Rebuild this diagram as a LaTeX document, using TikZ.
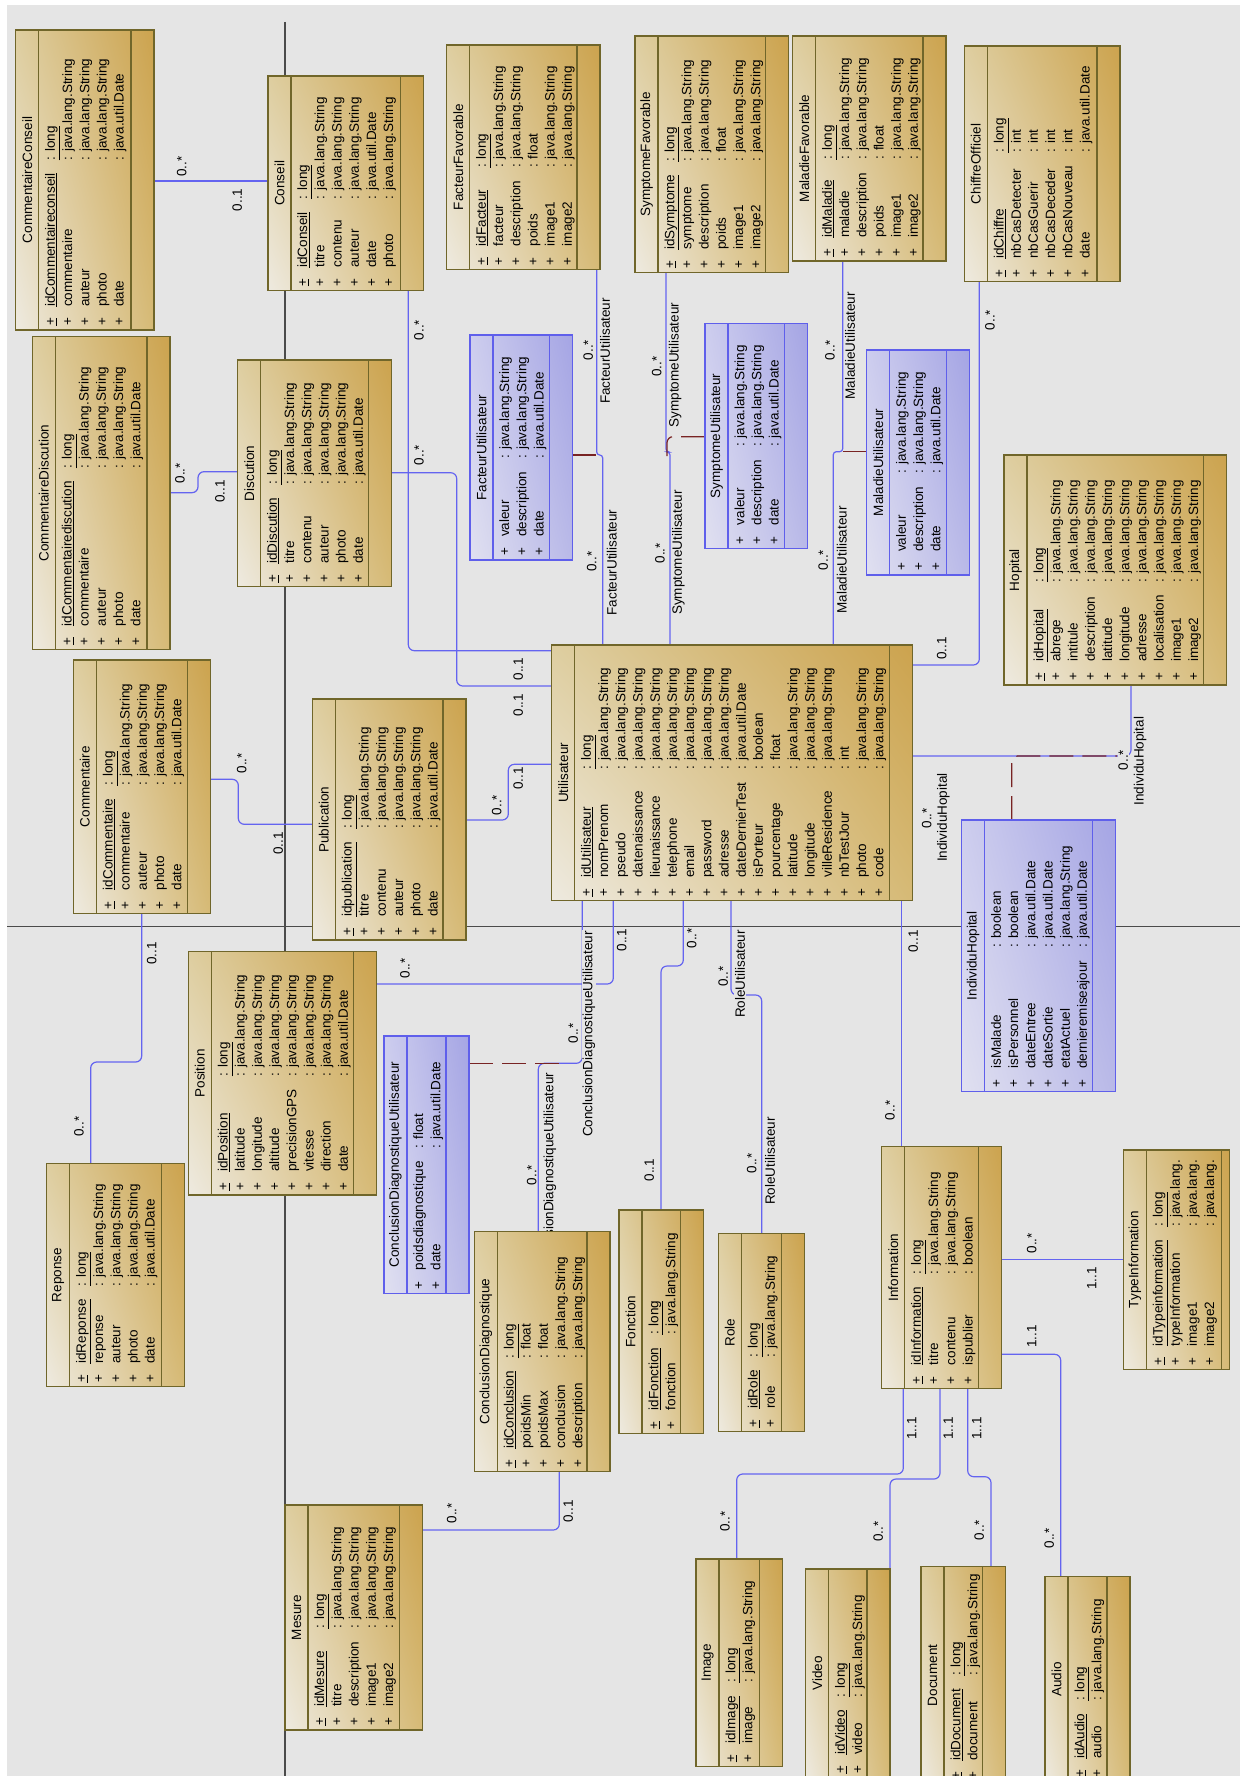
\documentclass[tikz,border=0pt]{standalone}
\usepackage{fontspec}
\setmainfont{Liberation Sans}
\usetikzlibrary{shadings,backgrounds}

\definecolor{bgray}{RGB}{229,229,229}
\definecolor{pagegray}{RGB}{75,75,75}
\definecolor{tanborder}{RGB}{112,102,42}
\definecolor{tanA}{RGB}{238,234,224}
\definecolor{tanB}{RGB}{222,206,160}
\definecolor{tanC}{RGB}{214,186,118}
\definecolor{tanD}{RGB}{204,163,78}
\definecolor{blueborder}{RGB}{95,95,235}
\definecolor{blueA}{RGB}{224,224,240}
\definecolor{blueB}{RGB}{205,205,238}
\definecolor{blueC}{RGB}{185,185,232}
\definecolor{blueD}{RGB}{165,165,228}
\definecolor{assocblue}{RGB}{100,100,240}
\definecolor{linkred}{RGB}{120,35,35}

\newcommand\clfont{\fontsize{13.5pt}{17.2pt}\selectfont}
\newcommand\jstr{java.lang.String}
\newcommand\jdate{java.util.Date}
\newcommand\clkey[1]{\underline{+} & \underline{#1} & \underline{: long}\\}
\newcommand\clattr[2]{+ & #1 & : #2\\}

\newcommand\classbox[9][23]{%
  \node[#2, minimum width={#6-#4}, minimum height={#7-#5}] (#3) at ({(#4+#6)/2},{(#5+#7)/2}) {};
  \draw[#2 div] ([xshift=23pt]#3.north west) -- ([xshift=23pt]#3.south west)
    ([xshift=-#1pt]#3.north east) -- ([xshift=-#1pt]#3.south east);
  \node[cltitle] (#3-t) at ([xshift=11.5pt]#3.west) {#8};
  \node[clattrs] (#3-a) at ([xshift=27pt,yshift=4pt]#3.south west)
    {\begin{tabular}{@{}l@{\hspace{11pt}}l@{\hspace{13pt}}l@{}}#9\end{tabular}};
}

\begin{document}
\begin{tikzpicture}[x=1pt,y=-1pt,
  tanclass/.style={draw=tanborder, line width=1.3pt, lower left=tanA, upper left=tanB, lower right=tanC, upper right=tanD, inner sep=0pt, outer sep=0pt},
  tanclass div/.style={draw=tanborder, line width=1.3pt},
  blueclass/.style={draw=blueborder, line width=1.3pt, lower left=blueA, upper left=blueB, lower right=blueC, upper right=blueD, inner sep=0pt, outer sep=0pt},
  blueclass div/.style={draw=blueborder, line width=1.3pt},
  cltitle/.style={rotate=90, font=\clfont, inner sep=0pt},
  clattrs/.style={rotate=90, anchor=north west, inner sep=0pt, font=\clfont},
  assoc/.style={draw=assocblue, line width=1.2pt, rounded corners=6pt},
  assoclink/.style={draw=linkred, line width=1.2pt, dash pattern=on 24pt off 9pt, rounded corners=6pt},
  mult/.style={rotate=90, font=\clfont, fill=bgray, inner sep=1pt},
  pageline/.style={draw=pagegray, line width=1.3pt}]

\useasboundingbox (0,0) rectangle (1240,1776);

\classbox{tanclass}{commconseil}{15.7}{30}{154}{330}{CommentaireConseil}{%
  \clkey{idCommentaireconseil}\clattr{commentaire}{\jstr}\clattr{auteur}{\jstr}\clattr{photo}{\jstr}\clattr{date}{\jdate}}
\classbox{tanclass}{conseil}{268}{76}{423.3}{290.7}{Conseil}{%
  \clkey{idConseil}\clattr{titre}{\jstr}\clattr{contenu}{\jstr}\clattr{auteur}{\jstr}\clattr{date}{\jdate}\clattr{photo}{\jstr}}
\classbox{tanclass}{commdisc}{32.3}{336.7}{170}{649.3}{CommentaireDiscution}{%
  \clkey{idCommentairediscution}\clattr{commentaire}{\jstr}\clattr{auteur}{\jstr}\clattr{photo}{\jstr}\clattr{date}{\jdate}}
\classbox{tanclass}{discution}{237.7}{360}{391.7}{586.7}{Discution}{%
  \clkey{idDiscution}\clattr{titre}{\jstr}\clattr{contenu}{\jstr}\clattr{auteur}{\jstr}\clattr{photo}{\jstr}\clattr{date}{\jdate}}
\classbox{tanclass}{commentaire}{73.3}{660}{210.7}{913.3}{Commentaire}{%
  \clkey{idCommentaire}\clattr{commentaire}{\jstr}\clattr{auteur}{\jstr}\clattr{photo}{\jstr}\clattr{date}{\jdate}}
\classbox{tanclass}{publication}{312.3}{699}{466}{940}{Publication}{%
  \clkey{idpublication}\clattr{titre}{\jstr}\clattr{contenu}{\jstr}\clattr{auteur}{\jstr}\clattr{photo}{\jstr}\clattr{date}{\jdate}}
\classbox{tanclass}{reponse}{46.7}{1163.3}{184.3}{1386.7}{Reponse}{%
  \clkey{idReponse}\clattr{reponse}{\jstr}\clattr{auteur}{\jstr}\clattr{photo}{\jstr}\clattr{date}{\jdate}}
\classbox{tanclass}{position}{188.3}{951.7}{376.7}{1195}{Position}{%
  \clkey{idPosition}\clattr{latitude}{\jstr}\clattr{longitude}{\jstr}\clattr{altitude}{\jstr}\clattr{precisionGPS}{\jstr}\clattr{vitesse}{\jstr}\clattr{direction}{\jstr}\clattr{date}{\jdate}}
\classbox{blueclass}{cdu}{384}{1036}{469}{1293.3}{ConclusionDiagnostiqueUtilisateur}{%
  \clattr{poidsdiagnostique}{float}\clattr{date}{\jdate}}
\classbox{tanclass}{conclusion}{474.3}{1231.7}{610}{1471.7}{ConclusionDiagnostique}{%
  \clkey{idConclusion}\clattr{poidsMin}{float}\clattr{poidsMax}{float}\clattr{conclusion}{\jstr}\clattr{description}{\jstr}}
\classbox{tanclass}{fonction}{619}{1210}{703.3}{1433.3}{Fonction}{%
  \clkey{idFonction}\clattr{fonction}{\jstr}}
\classbox{tanclass}{role}{718.3}{1233.3}{804.3}{1431.7}{Role}{%
  \clkey{idRole}\clattr{role}{\jstr}}
\classbox{tanclass}{mesure}{285}{1505}{422.3}{1730}{Mesure}{%
  \clkey{idMesure}\clattr{titre}{\jstr}\clattr{description}{\jstr}\clattr{image1}{\jstr}\clattr{image2}{\jstr}}
\classbox{tanclass}{image}{696}{1559}{782.7}{1766.6}{Image}{%
  \clkey{idImage}\clattr{image}{\jstr}}
\classbox{tanclass}{video}{805.7}{1569}{890}{1778}{Video}{%
  \clkey{idVideo}\clattr{video}{\jstr}}
\classbox{tanclass}{document}{921}{1566.7}{1005.7}{1784}{Document}{%
  \clkey{idDocument}\clattr{document}{\jstr}}
\classbox{tanclass}{audio}{1045}{1576.7}{1130}{1782}{Audio}{%
  \clkey{idAudio}\clattr{audio}{\jstr}}
\classbox{tanclass}{information}{881.7}{1146.7}{1001.7}{1388.3}{Information}{%
  \clkey{idInformation}\clattr{titre}{\jstr}\clattr{contenu}{\jstr}\clattr{ispublier}{boolean}}
\classbox[7.6]{tanclass}{typeinfo}{1123.3}{1150}{1229.3}{1369.3}{TypeInformation}{%
  \clkey{idTypeinformation}\clattr{typeInformation}{java.lang.}\clattr{image1}{java.lang.}\clattr{image2}{java.lang.}}
\classbox{blueclass}{individu}{961.7}{820}{1115.7}{1091.7}{IndividuHopital}{%
  \clattr{isMalade}{boolean}\clattr{isPersonnel}{boolean}\clattr{dateEntree}{\jdate}\clattr{dateSortie}{\jdate}\clattr{etatActuel}{\jstr}\clattr{dernieremiseajour}{\jdate}}
\classbox{tanclass}{hopital}{1004}{455}{1226.7}{685}{Hopital}{%
  \clkey{idHopital}\clattr{abrege}{\jstr}\clattr{intitule}{\jstr}\clattr{description}{\jstr}\clattr{latitude}{\jstr}\clattr{longitude}{\jstr}\clattr{adresse}{\jstr}\clattr{localisation}{\jstr}\clattr{image1}{\jstr}\clattr{image2}{\jstr}}
\classbox{tanclass}{utilisateur}{551.7}{645}{912.7}{900.7}{Utilisateur}{%
  \clkey{idUtilisateur}\clattr{nomPrenom}{\jstr}\clattr{pseudo}{\jstr}\clattr{datenaissance}{\jstr}\clattr{lieunaissance}{\jstr}\clattr{telephone}{\jstr}\clattr{email}{\jstr}\clattr{password}{\jstr}\clattr{adresse}{\jstr}\clattr{dateDernierTest}{\jdate}\clattr{isPorteur}{boolean}\clattr{pourcentage}{float}\clattr{latitude}{\jstr}\clattr{longitude}{\jstr}\clattr{villeResidence}{\jstr}\clattr{nbTestJour}{int}\clattr{photo}{\jstr}\clattr{code}{\jstr}}
\classbox{tanclass}{facteurfav}{446.7}{45}{600}{269.3}{FacteurFavorable}{%
  \clkey{idFacteur}\clattr{facteur}{\jstr}\clattr{description}{\jstr}\clattr{poids}{float}\clattr{image1}{\jstr}\clattr{image2}{\jstr}}
\classbox{tanclass}{symptomefav}{635}{36}{788.3}{272.7}{SymptomeFavorable}{%
  \clkey{idSymptome}\clattr{symptome}{\jstr}\clattr{description}{\jstr}\clattr{poids}{float}\clattr{image1}{\jstr}\clattr{image2}{\jstr}}
\classbox{tanclass}{maladiefav}{792.7}{36}{946}{261}{MaladieFavorable}{%
  \clkey{idMaladie}\clattr{maladie}{\jstr}\clattr{description}{\jstr}\clattr{poids}{float}\clattr{image1}{\jstr}\clattr{image2}{\jstr}}
\classbox{tanclass}{chiffre}{964.3}{46}{1120}{281.7}{ChiffreOfficiel}{%
  \clkey{idChiffre}\clattr{nbCasDetecter}{int}\clattr{nbCasGuerir}{int}\clattr{nbCasDeceder}{int}\clattr{nbCasNouveau}{int}\clattr{date}{\jdate}}
\classbox{blueclass}{facteurutil}{470}{335}{572.3}{560}{FacteurUtilisateur}{%
  \clattr{valeur}{\jstr}\clattr{description}{\jstr}\clattr{date}{\jdate}}
\classbox{blueclass}{symptomeutil}{705}{323.3}{807.3}{548.3}{SymptomeUtilisateur}{%
  \clattr{valeur}{\jstr}\clattr{description}{\jstr}\clattr{date}{\jdate}}
\classbox{blueclass}{maladieutil}{866.7}{350}{969.3}{575}{MaladieUtilisateur}{%
  \clattr{valeur}{\jstr}\clattr{description}{\jstr}\clattr{date}{\jdate}}

\begin{scope}[on background layer]
\fill[white] (0,0) rectangle (1240,1776);
\fill[bgray] (7,5) rectangle (1240,1776);
\draw[pageline] (285,22) -- (285,1776) (7,926.7) -- (1240,926.7);

\draw[assoc] (commconseil.east |- 0,181) -- (conseil.west |- 0,181);
\draw[assoc] (408.3,0 |- conseil.south) -- (408.3,650.7) -- (utilisateur.west |- 0,650.7);
\draw[assoc] (discution.east |- 0,472.7) -- (456.7,472.7) -- (456.7,686) -- (utilisateur.west |- 0,686);
\draw[assoc] (commdisc.east |- 0,492.7) -- (198,492.7) -- (198,471.7) -- (discution.west |- 0,471.7);
\draw[assoc] (commentaire.east |- 0,779.3) -- (238.3,779.3) -- (238.3,824.3) -- (publication.west |- 0,824.3);
\draw[assoc] (publication.east |- 0,820) -- (508.3,820) -- (508.3,764.3) -- (utilisateur.west |- 0,764.3);
\draw[assoc] (141.7,0 |- commentaire.south) -- (141.7,1062) -- (90.7,1062) -- (90.7,0 |- reponse.north);
\draw[assoc] (position.east |- 0,984) -- (613.3,984) -- (613.3,0 |- utilisateur.south);
\draw[assoc] (582.3,0 |- utilisateur.south) -- (582.3,1063.3) -- (538.3,1063.3) -- (538.3,0 |- conclusion.north);
\draw[assoc] (683.3,0 |- utilisateur.south) -- (683.3,966) -- (661,966) -- (661,0 |- fonction.north);
\draw[assoc] (731,0 |- utilisateur.south) -- (731,995) -- (761.7,995) -- (761.7,0 |- role.north);
\draw[assoc] (901.7,0 |- utilisateur.south) -- (901.7,0 |- information.north);
\draw[assoc] (information.east |- 0,1259.3) -- (typeinfo.west |- 0,1259.3);
\draw[assoc] (903.3,0 |- information.south) -- (903.3,1474) -- (736.7,1474) -- (736.7,0 |- image.north);
\draw[assoc] (940,0 |- information.south) -- (940,1479) -- (890,1479) -- (890,0 |- video.north);
\draw[assoc] (967.7,0 |- information.south) -- (967.7,1476.7) -- (991,1476.7) -- (991,0 |- document.north);
\draw[assoc] (information.east |- 0,1354.3) -- (1060.7,1354.3) -- (1060.7,0 |- audio.north);
\draw[assoc] (mesure.east |- 0,1530) -- (559.3,1530) -- (559.3,0 |- conclusion.south);
\draw[assoc] (utilisateur.east |- 0,756) -- (1131,756) -- (1131,0 |- hopital.south);
\draw[assoc] (utilisateur.east |- 0,665) -- (979.3,665) -- (979.3,0 |- chiffre.south);
\draw[assoc,rounded corners=3pt] (596.7,0 |- facteurfav.south) -- (596.7,455) -- (602.7,455) -- (602.7,0 |- utilisateur.north);
\draw[assoc,rounded corners=3pt] (666,0 |- symptomefav.south) -- (666,452) -- (670,452) -- (670,0 |- utilisateur.north);
\draw[assoc,rounded corners=3pt] (842.7,0 |- maladiefav.south) -- (842.7,451.7) -- (833.3,451.7) -- (833.3,0 |- utilisateur.north);

\draw[assoclink] (cdu.east |- 0,1063.3) -- (560,1063.3);
\draw[assoclink] (1011.7,0 |- individu.north) -- (1011.7,756) -- (1117,756);
\draw[assoclink] (facteurutil.east |- 0,455) -- (600,455);
\draw[assoclink] (symptomeutil.west |- 0,436.7) -- (667,436.7) -- (667,456);
\draw[assoclink] (maladieutil.west |- 0,451.7) -- (836,451.7);

\foreach \x/\y/\t [count=\i] in {181.7/166.7/0..*, 237.3/200/0..1, 419/330/0..*, 518.3/669/0..1,
  419/455/0..*, 518.3/705/0..1, 180/473.3/0..*, 220/491.7/0..1, 241.7/763.3/0..*, 278.3/843.3/0..1,
  496.7/805/0..*, 518.3/778.3/0..1, 151.7/953.3/0..1, 79/1126.7/0..*, 405/968.3/0..*, 621.7/940/0..1,
  589/1034/ConclusionDiagnostiqueUtilisateur, 573.3/1033.3/0..*, 531.7/1175/0..*,
  550/1175.7/ConclusionDiagnostiqueUtilisateur, 691.7/938.3/0..*, 649.3/1170/0..1,
  740/974/RoleUtilisateur, 723.3/976.7/0..*, 751.7/1163.3/0..*, 770/1161/RoleUtilisateur,
  913.3/941.7/0..1, 890/1110/0..*, 1031.7/1243.3/0..*, 1091.7/1278.3/1..1,
  911.7/1428.3/1..1, 725/1521.7/0..*, 948.3/1428.3/1..1, 878.3/1531.7/0..*,
  976.7/1428.3/1..1, 979.3/1530/0..*, 1031.7/1336.7/1..1, 1049.3/1538.3/0..*,
  451.7/1513.3/0..*, 568.3/1511.7/0..1, 943.3/817.5/IndividuHopital, 926.7/818.3/0..*,
  1140/761/IndividuHopital, 1123.3/760/0..*, 990/320/0..*, 941.7/648.3/0..1,
  588.3/350/0..*, 605/351/FacteurUtilisateur, 591.7/561.7/0..*, 611.7/562.5/FacteurUtilisateur,
  656.7/366.7/0..*, 675/365/SymptomeUtilisateur, 660/553.3/0..*, 678.3/552.5/SymptomeUtilisateur,
  830/350/0..*, 850/345.8/MaladieUtilisateur, 823.3/560/0..*, 841.7/560/MaladieUtilisateur}
  \node[mult] (lab\i) at (\x,\y) {\t};
\end{scope}
\end{tikzpicture}
\end{document}
